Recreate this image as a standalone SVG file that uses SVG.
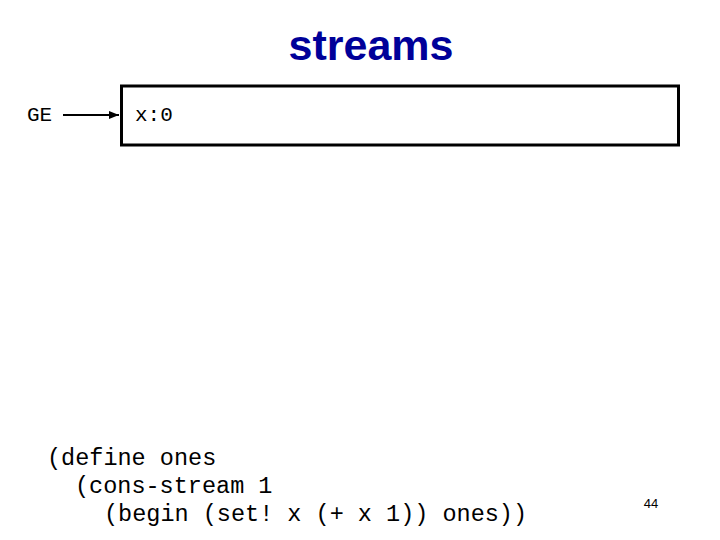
<svg xmlns="http://www.w3.org/2000/svg" width="720" height="540" viewBox="0 0 720 540">
<style>
.title{font-family:"Liberation Sans",Arial,sans-serif;font-weight:bold;font-size:43px;fill:#000099}
.mono{font-family:"Liberation Mono","Courier New",monospace;font-size:23.5px;fill:#000}
.lbl{font-family:"Liberation Mono","Courier New",monospace;font-size:21px;fill:#000}
.pg{font-family:"Liberation Sans",Arial,sans-serif;font-size:13px;fill:#000}
</style>
<defs>
<marker id="ah" markerWidth="10" markerHeight="8" refX="10" refY="4" orient="auto" markerUnits="userSpaceOnUse">
<path d="M0,0 L10,4 L0,8 z" fill="#000"/>
</marker>
</defs>
<rect width="720" height="540" fill="#fff"/>
<text class="title" x="371" y="60" text-anchor="middle">streams</text>
<g id="GE">
<text class="lbl" x="27" y="121">GE</text>
</g>
<g id="frame">
<rect x="121.5" y="86" width="557" height="59" fill="#fff" stroke="#000" stroke-width="3"/>
<text class="lbl" x="135" y="121">x:0</text>
</g>
<g id="connectors">
<line x1="63" y1="115" x2="119" y2="115" stroke="#000" stroke-width="2" marker-end="url(#ah)"/>
</g>
<g id="code">
<text class="mono" x="47" y="465">(define ones</text>
<text class="mono" x="75" y="493">(cons-stream 1</text>
<text class="mono" x="104" y="521">(begin (set! x (+ x 1)) ones))</text>
</g>
<text class="pg" x="651" y="508" text-anchor="middle">44</text>
</svg>
